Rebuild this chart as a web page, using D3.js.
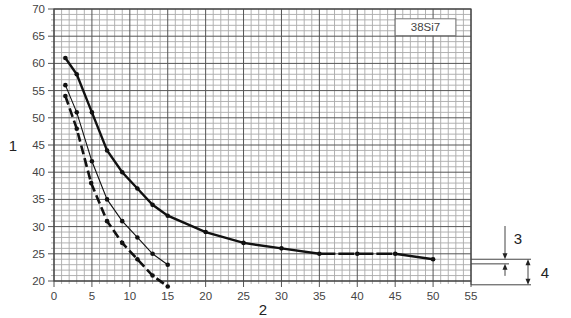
<!DOCTYPE html>
<html><head><meta charset="utf-8">
<script src="https://cdn.jsdelivr.net/npm/d3@7"></script>
<style>body{margin:0;background:#fff}svg{display:block}</style>
</head><body><svg id="c" width="571" height="318"></svg>
<script>
const xTicks = [0,5,10,15,20,25,30,35,40,45,50,55];
const yTicks = [20,25,30,35,40,45,50,55,60,65,70];
const seriesA_x = [1.5,3,5,7,9,11,13,15,20,25,30,35,40,45,50];
const seriesA_y = [61,58,51,44,40,37,34,32,29,27,26,25,25,25,24];
const seriesB_x = [1.5,3,5,7,9,11,13,15];
const seriesB_y = [56,51,42,35,31,28,25,23];
const seriesC_x = [1.5,3,4.9,7,9,11,13,15];
const seriesC_y = [54,48,38,31,27,24,21,19];
const boxLabel = "38Si7";
const axisLabelY = "1", axisLabelX = "2";
const annoLabels = ["3","4"];
const annoValues = [24, 23.15, 19.3];

const svg = d3.select("#c");
const L=54, R=471, T=9, B=281;
const x = d3.scaleLinear().domain([0,55]).range([L,R]);
const y = d3.scaleLinear().domain([20,70]).range([B,T]);
const font = "Liberation Sans, Arial, sans-serif";

// grid
const g = svg.append("g");
const minorX = d3.range(0,56,1), minorY = d3.range(20,71,1);
g.selectAll(".mx").data(minorX.filter(v=>v%5)).join("line")
  .attr("x1",d=>x(d)).attr("x2",d=>x(d)).attr("y1",T).attr("y2",B+3)
  .attr("stroke","#aaa").attr("stroke-width",0.9);
g.selectAll(".my").data(minorY.filter(v=>v%5)).join("line")
  .attr("y1",d=>y(d)).attr("y2",d=>y(d)).attr("x1",L-3).attr("x2",R)
  .attr("stroke","#aaa").attr("stroke-width",0.9);
g.selectAll(".Mx").data(xTicks).join("line")
  .attr("x1",d=>x(d)).attr("x2",d=>x(d)).attr("y1",T).attr("y2",B+6)
  .attr("stroke","#555").attr("stroke-width",1);
g.selectAll(".My").data(yTicks).join("line")
  .attr("y1",d=>y(d)).attr("y2",d=>y(d)).attr("x1",L-6).attr("x2",R)
  .attr("stroke","#555").attr("stroke-width",1);
g.append("rect").attr("x",L).attr("y",T).attr("width",R-L).attr("height",B-T)
  .attr("fill","none").attr("stroke","#444").attr("stroke-width",1.2);

// tick labels
svg.selectAll(".xl").data(xTicks).join("text")
  .attr("x",d=>x(d)).attr("y",B+19).attr("text-anchor","middle")
  .attr("font-family",font).attr("font-size",11.5).attr("fill","#444").text(d=>d);
svg.selectAll(".yl").data(yTicks).join("text")
  .attr("x",L-9).attr("y",d=>y(d)+4).attr("text-anchor","end")
  .attr("font-family",font).attr("font-size",11.5).attr("fill","#444").text(d=>d);
svg.append("text").attr("x",13).attr("y",151).attr("text-anchor","middle")
  .attr("font-family",font).attr("font-size",15).attr("fill","#222").text(axisLabelY);
svg.append("text").attr("x",263).attr("y",315).attr("text-anchor","middle")
  .attr("font-family",font).attr("font-size",15).attr("fill","#222").text(axisLabelX);

// label box
svg.append("rect").attr("x",x(45)).attr("y",y(68.2)).attr("width",x(53)-x(45)).attr("height",y(65.1)-y(68.2))
  .attr("fill","#fff").attr("stroke","#777").attr("stroke-width",1);
svg.append("text").attr("x",(x(45)+x(53))/2).attr("y",(y(68.2)+y(65.1))/2+4).attr("text-anchor","middle")
  .attr("font-family",font).attr("font-size",11.5).attr("fill","#444").text(boxLabel);

// series
const line = d3.line().x(d=>x(d[0])).y(d=>y(d[1]));
const A = d3.zip(seriesA_x, seriesA_y), Bs = d3.zip(seriesB_x, seriesB_y), C = d3.zip(seriesC_x, seriesC_y);
const i35 = seriesA_x.indexOf(35), i45 = seriesA_x.indexOf(45);
svg.append("path").attr("d",line(A.slice(0,i35+1))).attr("fill","none").attr("stroke","#111").attr("stroke-width",2.4);
svg.append("path").attr("d",line(A.slice(i35,i45+1))).attr("fill","none").attr("stroke","#111").attr("stroke-width",2.4).attr("stroke-dasharray","16,3");
svg.append("path").attr("d",line(A.slice(i45))).attr("fill","none").attr("stroke","#111").attr("stroke-width",2.4);
svg.append("path").attr("d",line(Bs)).attr("fill","none").attr("stroke","#111").attr("stroke-width",1.1);
svg.append("path").attr("d",line(C)).attr("fill","none").attr("stroke","#111").attr("stroke-width",2.6).attr("stroke-dasharray","9,4");
[A,Bs,C].forEach(s=>{
  svg.append("g").selectAll("circle").data(s).join("circle")
    .attr("cx",d=>x(d[0])).attr("cy",d=>y(d[1])).attr("r",2.3).attr("fill","#111");
});

// annotation
const ax0 = x(55);
const yA = y(annoValues[0]), yB = y(annoValues[1]), yC = y(annoValues[2]);
const an = svg.append("g").attr("stroke","#444").attr("stroke-width",1).attr("fill","none");
an.append("line").attr("x1",ax0).attr("x2",ax0+60).attr("y1",yA).attr("y2",yA);
an.append("line").attr("x1",ax0).attr("x2",ax0+38).attr("y1",yB).attr("y2",yB);
an.append("line").attr("x1",ax0).attr("x2",ax0+60).attr("y1",yC).attr("y2",yC);
an.append("line").attr("x1",ax0).attr("x2",ax0).attr("y1",B).attr("y2",yC);
const ax3 = ax0+34, ax4 = ax0+57;
an.append("line").attr("x1",ax3).attr("x2",ax3).attr("y1",226).attr("y2",yA-4);
an.append("line").attr("x1",ax3).attr("x2",ax3).attr("y1",yB+4).attr("y2",yB+12);
an.append("line").attr("x1",ax4).attr("x2",ax4).attr("y1",yA+4).attr("y2",yC-4);
function tri(xc,yt,dir){
  svg.append("path").attr("d",`M${xc},${yt}L${xc-2.5},${yt-6*dir}L${xc+2.5},${yt-6*dir}Z`).attr("fill","#222");
}
tri(ax3,yA,1); tri(ax3,yB,-1); tri(ax4,yA,-1); tri(ax4,yC,1);
svg.append("text").attr("x",ax0+47).attr("y",244).attr("text-anchor","middle")
  .attr("font-family",font).attr("font-size",15).attr("fill","#222").text(annoLabels[0]);
svg.append("text").attr("x",ax0+74).attr("y",278).attr("text-anchor","middle")
  .attr("font-family",font).attr("font-size",15).attr("fill","#222").text(annoLabels[1]);
</script></body></html>
